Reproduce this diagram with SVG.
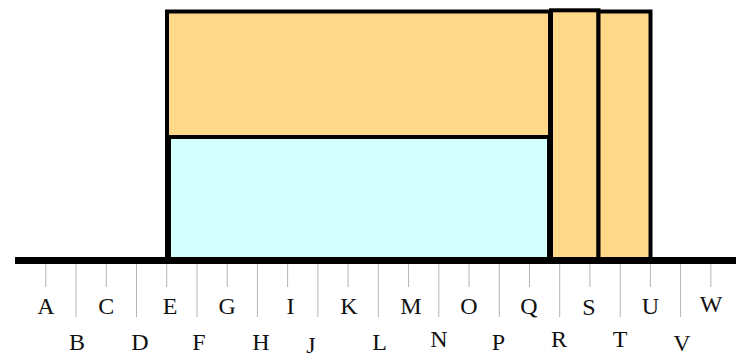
<svg xmlns="http://www.w3.org/2000/svg" width="736" height="361" viewBox="0 0 736 361">
<style>
.blk{stroke:#000;stroke-width:4;}
.org{fill:#FFD88A;}
.cyn{fill:#D4FFFF;}
.tick{stroke:#b4b4b4;stroke-width:1;}
.lbl{font-family:"Liberation Serif","DejaVu Serif",serif;font-size:24px;fill:#111;text-anchor:middle;}
</style>
<rect width="736" height="361" fill="#fff"/>
<g id="block-main">
<rect class="org blk" x="167" y="11.5" width="383" height="248.5"/>
</g>
<g id="block-lower">
<rect class="cyn blk" x="169" y="137" width="380" height="123"/>
</g>
<g id="block-s">
<rect class="org blk" x="551" y="10.3" width="47.5" height="249.7"/>
</g>
<g id="block-t">
<rect class="org blk" x="598.5" y="11.5" width="52" height="248.5"/>
</g>
<g id="ticks">
<line class="tick" x1="45.8" y1="264" x2="45.8" y2="287"/>
<line class="tick" x1="76" y1="264" x2="76" y2="317"/>
<line class="tick" x1="106.3" y1="264" x2="106.3" y2="287"/>
<line class="tick" x1="136.5" y1="264" x2="136.5" y2="317"/>
<line class="tick" x1="166.7" y1="264" x2="166.7" y2="287"/>
<line class="tick" x1="197" y1="264" x2="197" y2="317"/>
<line class="tick" x1="227.2" y1="264" x2="227.2" y2="287"/>
<line class="tick" x1="257.4" y1="264" x2="257.4" y2="317"/>
<line class="tick" x1="287.6" y1="264" x2="287.6" y2="287"/>
<line class="tick" x1="317.9" y1="264" x2="317.9" y2="317"/>
<line class="tick" x1="348.1" y1="264" x2="348.1" y2="287"/>
<line class="tick" x1="378.3" y1="264" x2="378.3" y2="317"/>
<line class="tick" x1="408.6" y1="264" x2="408.6" y2="287"/>
<line class="tick" x1="438.8" y1="264" x2="438.8" y2="317"/>
<line class="tick" x1="469" y1="264" x2="469" y2="287"/>
<line class="tick" x1="499.3" y1="264" x2="499.3" y2="317"/>
<line class="tick" x1="529.5" y1="264" x2="529.5" y2="287"/>
<line class="tick" x1="559.7" y1="264" x2="559.7" y2="317"/>
<line class="tick" x1="589.9" y1="264" x2="589.9" y2="287"/>
<line class="tick" x1="620.2" y1="264" x2="620.2" y2="317"/>
<line class="tick" x1="650.4" y1="264" x2="650.4" y2="287"/>
<line class="tick" x1="680.6" y1="264" x2="680.6" y2="317"/>
<line class="tick" x1="710.9" y1="264" x2="710.9" y2="287"/>
</g>
<g id="ground">
<line x1="15" y1="260.5" x2="736" y2="260.5" stroke="#000" stroke-width="7"/>
</g>
<g id="labels">
<text class="lbl" x="45.8" y="314">A</text>
<text class="lbl" x="77" y="350">B</text>
<text class="lbl" x="106.3" y="314">C</text>
<text class="lbl" x="140" y="350">D</text>
<text class="lbl" x="170" y="314">E</text>
<text class="lbl" x="199" y="350">F</text>
<text class="lbl" x="227.2" y="314">G</text>
<text class="lbl" x="261" y="350">H</text>
<text class="lbl" x="290.5" y="314">I</text>
<text class="lbl" x="311" y="353">J</text>
<text class="lbl" x="349" y="314">K</text>
<text class="lbl" x="379.5" y="350">L</text>
<text class="lbl" x="411" y="314">M</text>
<text class="lbl" x="439" y="347">N</text>
<text class="lbl" x="469" y="314">O</text>
<text class="lbl" x="498.5" y="350">P</text>
<text class="lbl" x="529" y="314">Q</text>
<text class="lbl" x="559" y="347">R</text>
<text class="lbl" x="589" y="315">S</text>
<text class="lbl" x="620" y="347">T</text>
<text class="lbl" x="650.5" y="314">U</text>
<text class="lbl" x="682" y="351">V</text>
<text class="lbl" x="711" y="312">W</text>
</g>
</svg>
